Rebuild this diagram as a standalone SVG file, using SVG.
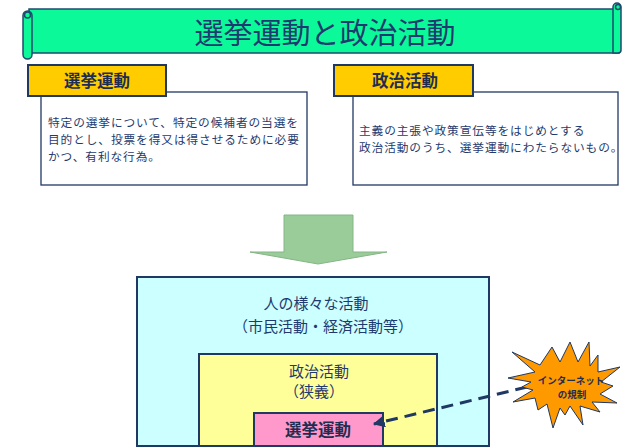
<svg xmlns="http://www.w3.org/2000/svg" width="624" height="448" viewBox="0 0 624 448">
<style>
text{font-family:"Noto Sans CJK JP","Noto Sans",sans-serif;}
.ttl{font-size:29px;fill:#1F3A6E;text-anchor:middle;}
.lbl{fill:#FFCC00;stroke:#1F3864;stroke-width:2;}
.lbltxt{font-size:16.5px;font-weight:bold;fill:#1F2D50;text-anchor:middle;}
.desc{fill:#FFFFFF;stroke:#1F3864;stroke-width:1.3;}
.body{font-size:11.7px;letter-spacing:0.9px;fill:#1F3A6E;}
.mid{font-size:15px;fill:#1F3A6E;text-anchor:middle;}
.frame{stroke:#1F3864;stroke-width:2;}
.scroll{fill:#0CF99A;stroke:#1F4A6E;stroke-width:1.5;}
.burst{font-size:9.5px;font-weight:bold;fill:#1F2D50;text-anchor:middle;}
</style>
<defs>
<marker id="ah" viewBox="0 0 10 10" refX="9" refY="5" markerWidth="4" markerHeight="4" orient="auto" markerUnits="strokeWidth">
<path d="M0,0 L10,5 L0,10 Z" fill="#1F3864"/>
</marker>
</defs>

<g id="title">
<rect class="scroll" x="29" y="9" width="590" height="44"/>
<path class="scroll" d="M613,53 L613,7 A4,4 0 0 1 621,7 L621,50 A3,3 0 0 1 618,53 Z"/>
<circle class="scroll" cx="618" cy="7" r="2.5"/>
<rect class="scroll" x="23" y="11" width="9" height="48" rx="4.5"/>
<circle class="scroll" cx="27.5" cy="15" r="3"/>
<text class="ttl" x="325" y="44">選挙運動と政治活動</text>
</g>

<g id="senkyo-def">
<rect class="desc" x="41" y="92" width="266" height="93"/>
<rect class="lbl" x="28" y="65" width="138" height="31"/>
<text class="lbltxt" x="97" y="87">選挙運動</text>
<text class="body" x="48" y="127">特定の選挙について、特定の候補者の当選を</text>
<text class="body" x="48" y="144">目的とし、投票を得又は得させるために必要</text>
<text class="body" x="48" y="161">かつ、有利な行為。</text>
</g>

<g id="seiji-def">
<rect class="desc" x="353" y="92" width="265" height="93"/>
<rect class="lbl" x="334" y="65" width="139" height="31"/>
<text class="lbltxt" x="405" y="87">政治活動</text>
<text class="body" x="359" y="135">主義の主張や政策宣伝等をはじめとする</text>
<text class="body" x="359" y="152">政治活動のうち、選挙運動にわたらないもの。</text>
</g>

<g id="down-arrow">
<path d="M284,215 L353,215 L353,252 L387,252 L318,264 L250,252 L284,252 Z" fill="#99CC99" stroke="#86B486" stroke-width="1"/>
</g>

<g id="human-activity">
<rect class="frame" x="137" y="277" width="352" height="169" fill="#CCFFFF"/>
<text class="mid" x="316" y="309">人の様々な活動</text>
<text class="mid" x="323" y="332">（市民活動・経済活動等）</text>
</g>

<g id="political-activity">
<rect class="frame" x="199" y="354" width="238" height="92" fill="#FFFF99"/>
<text class="mid" font-size="14.5" x="319" y="377">政治活動</text>
<text class="mid" font-size="14.5" x="314" y="397">（狭義）</text>
</g>

<g id="election-campaign">
<rect class="frame" x="254" y="413" width="129" height="33" fill="#FF99CC"/>
<text class="lbltxt" x="318" y="436">選挙運動</text>
</g>

<g id="connectors">
<line x1="527" y1="387" x2="374" y2="424" stroke="#1F3864" stroke-width="3" stroke-dasharray="12,7" marker-end="url(#ah)"/>
</g>

<g id="internet-burst">
<polygon points="512,352 540,365 552,347 560,362 570,342 578,362 589,342 590,366 598,355 598,372 620,367 601,382 613,386 600,394 617,403 592,402 600,412 580,406 583,425 570,406 565,415 560,408 553,428 547,404 538,410 535,398 513,402 533,390 522,387 531,382 508,378 535,372" fill="#FF9900" stroke="#1F3864" stroke-width="1"/>
<text class="burst" x="571" y="384">インターネット</text>
<text class="burst" x="572" y="398">の規制</text>
</g>
</svg>
